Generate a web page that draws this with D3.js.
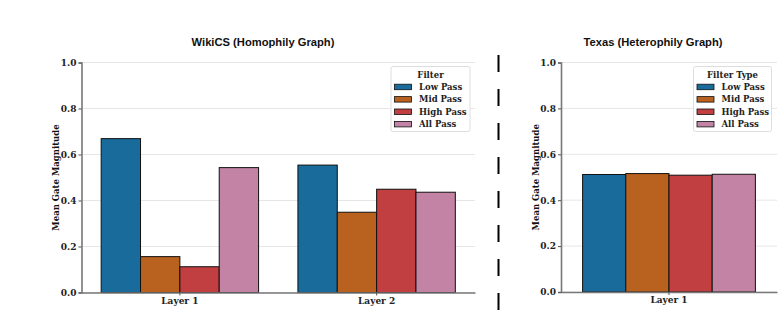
<!DOCTYPE html>
<html><head><meta charset="utf-8">
<script src="https://cdn.jsdelivr.net/npm/d3@7"></script>
<style>
body{margin:0;background:#fff;}
svg{display:block;}
.tick text{font-family:"DejaVu Serif",serif;font-weight:bold;font-size:9px;fill:#222;}
</style></head>
<body><svg id="c" width="783" height="316"></svg>
<script>
const filters = ["Low Pass","Mid Pass","High Pass","All Pass"];
const colors = ["#196b9c","#b9611f","#c13e41","#c383a5"];
const yTicks = [0.0,0.2,0.4,0.6,0.8,1.0];
const wikiLayers = ["Layer 1","Layer 2"];
const wikiValues = [
  [0.669,0.156,0.112,0.543],
  [0.554,0.349,0.449,0.436]
];
const texasLayers = ["Layer 1"];
const texasValues = [
  [0.512,0.516,0.509,0.513]
];

const svg = d3.select("#c");

function panel(o){
  const g = svg.append("g");
  const x = d3.scaleBand().domain(o.layers).range([o.x0,o.x1]).paddingInner(o.pin).paddingOuter(o.pout);
  const xs = d3.scaleBand().domain(filters).range([0,x.bandwidth()]);
  const y = d3.scaleLinear().domain([0,1]).range([o.yb,o.yt]);
  g.append("g").selectAll("line").data(yTicks).join("line")
    .attr("x1",o.x0).attr("x2",o.x1).attr("y1",d=>y(d)).attr("y2",d=>y(d))
    .attr("stroke","#e6e6e6").attr("stroke-width",1);
  o.layers.forEach((L,i)=>{
    g.append("g").selectAll("rect").data(o.values[i]).join("rect")
      .attr("x",(d,j)=>x(L)+xs(filters[j]))
      .attr("y",d=>y(d)).attr("width",xs.bandwidth()).attr("height",d=>y(0)-y(d))
      .attr("fill",(d,j)=>colors[j]).attr("stroke","#111").attr("stroke-width",1);
  });
  const ya = g.append("g").attr("transform",`translate(${o.x0},0)`)
    .call(d3.axisLeft(y).tickValues(yTicks).tickFormat(d3.format(".1f")).tickSize(3).tickPadding(2));
  ya.select(".domain").attr("stroke","#777").attr("stroke-width",1.6);
  ya.selectAll(".tick line").attr("stroke","#555");
  const xa = g.append("g").attr("transform",`translate(0,${o.yb})`)
    .call(d3.axisBottom(x).tickSize(3).tickPadding(2).tickSizeOuter(0));
  xa.select(".domain").attr("stroke","#777").attr("stroke-width",1.6);
  xa.selectAll(".tick line").attr("stroke","#555");
  g.append("text").attr("x",o.tx).attr("y",45.5).attr("text-anchor","middle")
    .attr("font-family","'Liberation Sans',Arial,sans-serif").attr("font-weight","bold")
    .attr("font-size","11.2px").attr("fill","#111").text(o.title);
  g.append("text").attr("transform",`translate(${o.ylx},${(o.yt+o.yb)/2}) rotate(-90)`)
    .attr("text-anchor","middle").attr("font-family","'DejaVu Serif',serif").attr("font-weight","bold")
    .attr("font-size","8.5px").attr("fill","#111").text("Mean Gate Magnitude");
  const lg = g.append("g");
  lg.append("rect").attr("x",o.lx).attr("y",66.5).attr("width",o.lw).attr("height",65)
    .attr("fill","#fff").attr("fill-opacity",0.9).attr("stroke","#ddd").attr("stroke-width",1).attr("rx",2);
  lg.append("text").attr("x",o.lx+o.lw/2).attr("y",77.5).attr("text-anchor","middle")
    .attr("font-family","'DejaVu Serif',serif").attr("font-weight","bold").attr("font-size","8.5px")
    .attr("fill","#222").text(o.ltitle);
  filters.forEach((f,j)=>{
    const yy = 86.7 + j*12.4;
    lg.append("rect").attr("x",o.lx+3.5).attr("y",yy-2.5).attr("width",17).attr("height",5.5)
      .attr("fill",colors[j]).attr("stroke","#111").attr("stroke-width",0.8);
    lg.append("text").attr("x",o.lx+28).attr("y",yy+3.2)
      .attr("font-family","'DejaVu Serif',serif").attr("font-weight","bold").attr("font-size","8.5px")
      .attr("fill","#222").text(f);
  });
}

panel({layers:wikiLayers,values:wikiValues,x0:81.5,x1:475,yb:292.5,yt:62.5,pin:0.2,pout:0.1,
  title:"WikiCS (Homophily Graph)",tx:263,ylx:59,lx:391,lw:79,ltitle:"Filter"});
panel({layers:texasLayers,values:texasValues,x0:561,x1:777,yb:292,yt:62.5,pin:0.2,pout:0.1,
  title:"Texas (Heterophily Graph)",tx:653,ylx:539,lx:693.5,lw:78,ltitle:"Filter Type"});

svg.append("line").attr("x1",498.5).attr("x2",498.5).attr("y1",55).attr("y2",310)
  .attr("stroke","#000").attr("stroke-width",2).attr("stroke-dasharray","17,17");
</script></body></html>
